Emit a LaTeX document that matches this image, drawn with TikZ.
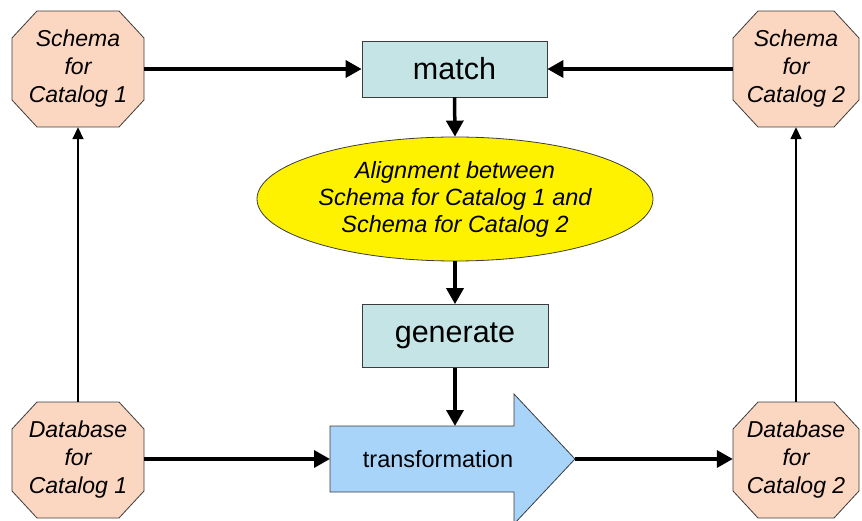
\documentclass[tikz,border=0pt]{standalone}
\usepackage{fontspec}
\setmainfont{Liberation Sans}
\usetikzlibrary{shapes.geometric,arrows.meta}
\definecolor{peach}{RGB}{251,214,192}
\definecolor{boxcyan}{RGB}{196,228,230}
\definecolor{arrowblue}{RGB}{168,212,250}
\definecolor{edgegray}{RGB}{60,60,60}
\tikzset{
  octline/.style={draw=edgegray, line width=0.8pt, fill=peach},
  octa/.style={rectangle, draw=none, minimum height=116pt,
    inner sep=0pt, align=center, font=\fontsize{23}{28}\selectfont\itshape},
  procbox/.style={rectangle, draw=edgegray, line width=0.8pt, fill=boxcyan, inner sep=0pt,
    font=\fontsize{30.5}{36}\selectfont},
  thickarrow/.style={line width=3.5pt, -{Triangle[length=16pt,width=17pt]}},
  thinarrow/.style={line width=1.6pt, -{Triangle[length=12pt,width=11pt]}},
}
% #1 = centre x, #2 = centre y, #3 = half width
\newcommand{\myoctagon}[3]{%
  \draw[octline] (#1-#3+25,#2-58) -- (#1+#3-25,#2-58) -- (#1+#3,#2-31) -- (#1+#3,#2+31)
    -- (#1+#3-25,#2+58) -- (#1-#3+25,#2+58) -- (#1-#3,#2+31) -- (#1-#3,#2-31) -- cycle;}
\begin{document}
\begin{tikzpicture}[x=1pt,y=-1pt]
\useasboundingbox (0,0) rectangle (862,521);
% octagons
\myoctagon{78}{69}{66}
\myoctagon{796}{69}{63}
\myoctagon{78}{460}{66}
\myoctagon{796}{460}{63}
\node[octa, minimum width=132pt] (s1) at (78,69) {Schema\\for\\Catalog 1};
\node[octa, minimum width=126pt] (s2) at (796,69) {Schema\\for\\Catalog 2};
\node[octa, minimum width=132pt] (d1) at (78,460) {Database\\for\\Catalog 1};
\node[octa, minimum width=126pt] (d2) at (796,460) {Database\\for\\Catalog 2};
% process boxes
\node[procbox, minimum width=185pt, minimum height=56pt] (match) at (454.5,69) {match};
\node[procbox, minimum width=186pt, minimum height=63pt] (gen) at (455,336) {generate};
% ellipse
\node[ellipse, draw=edgegray, line width=0.8pt, fill=yellow, minimum width=396pt, minimum height=124pt,
  inner sep=0pt, align=center, font=\fontsize{23.5}{27}\selectfont\itshape] (align) at (455,199)
  {Alignment between\\Schema for Catalog 1 and\\Schema for Catalog 2};
% transformation arrow
\draw[draw=edgegray, line width=0.8pt, fill=arrowblue]
  (330,426) -- (514,426) -- (514,394) -- (575,459) -- (514,524) -- (514,492) -- (330,492) -- cycle;
\node[font=\fontsize{23.5}{28}\selectfont] (trtext) at (438,459) {transformation};
\coordinate (trtop) at (455,426);
\coordinate (trleft) at (330,459);
\coordinate (trtip) at (575,459);
% connectors
\draw[thickarrow] (s1.east) -- (match.west);
\draw[thickarrow] (s2.west) -- (match.east);
\draw[thickarrow] (match.south) -- (align.north);
\draw[thickarrow] (align.south) -- (gen.north);
\draw[thickarrow] (gen.south) -- (trtop);
\draw[thickarrow] (d1.east |- trleft) -- (trleft);
\draw[thickarrow] (trtip) -- (d2.west |- trtip);
\draw[thinarrow] (d1.north) -- (s1.south);
\draw[thinarrow] (d2.north) -- (s2.south);
\end{tikzpicture}
\end{document}
